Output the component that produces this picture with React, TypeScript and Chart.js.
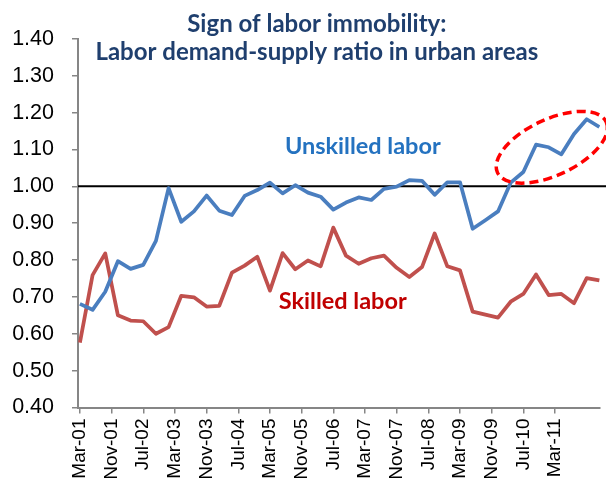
import React, { useEffect, useRef } from "react";
import { Chart, registerables } from "chart.js";

Chart.register(...registerables);

// ---- Data ----
const xTickLabels = [
  "Mar-01", "Nov-01", "Jul-02", "Mar-03", "Nov-03", "Jul-04", "Mar-05", "Nov-05",
  "Jul-06", "Mar-07", "Nov-07", "Jul-08", "Mar-09", "Nov-09", "Jul-10", "Mar-11",
];
// each tick label spans 2.5 observations
const pointsPerTick = 2.5;

const unskilledLabor = [
  0.681, 0.665, 0.714, 0.797, 0.776, 0.787, 0.852, 0.995, 0.904, 0.932,
  0.975, 0.934, 0.922, 0.974, 0.990, 1.010, 0.981, 1.003, 0.983, 0.972,
  0.937, 0.956, 0.970, 0.963, 0.993, 0.999, 1.017, 1.015, 0.977, 1.011,
  1.011, 0.885, 0.908, 0.932, 1.010, 1.039, 1.113, 1.106, 1.087, 1.142,
  1.182, 1.161,
];

const skilledLabor = [
  0.576, 0.759, 0.818, 0.650, 0.636, 0.634, 0.600, 0.618, 0.703, 0.699,
  0.674, 0.676, 0.766, 0.785, 0.809, 0.717, 0.819, 0.775, 0.799, 0.783,
  0.888, 0.812, 0.790, 0.805, 0.812, 0.779, 0.754, 0.781, 0.872, 0.783,
  0.772, 0.660, 0.652, 0.644, 0.687, 0.708, 0.761, 0.705, 0.708, 0.683,
  0.751, 0.745,
];

const titleLines = ["Sign of labor immobility:", "Labor demand-supply ratio in urban areas"];
const referenceLevel = 1.0;

const BLUE = "#4A7EBF";
const RED = "#C0504D";
const AXIS_GRAY = "#868686";

const annotationPlugin = {
  id: "labAnnotations",
  beforeDatasetsDraw(chart: any) {
    const { ctx, chartArea, scales } = chart;
    const y = scales.y;
    const py = y.getPixelForValue(referenceLevel);
    ctx.save();
    ctx.strokeStyle = "#000000";
    ctx.lineWidth = 2;
    ctx.beginPath();
    ctx.moveTo(chartArea.left, py);
    ctx.lineTo(chart.width, py);
    ctx.stroke();
    ctx.restore();
  },
  afterDatasetsDraw(chart: any) {
    const { ctx, scales } = chart;
    const x = scales.x;
    const y = scales.y;
    ctx.save();

    // Title
    ctx.fillStyle = "#1F3F6E";
    ctx.font = "bold 24px Lato";
    ctx.textAlign = "center";
    ctx.textBaseline = "alphabetic";
    ctx.fillText(titleLines[0], x.getPixelForValue(18.7), y.getPixelForValue(1.420));
    ctx.fillText(titleLines[1], x.getPixelForValue(18.7), y.getPixelForValue(1.342));

    // Series labels
    ctx.textAlign = "left";
    ctx.font = "bold 23.5px Lato";
    ctx.fillStyle = "#2472C0";
    ctx.fillText("Unskilled labor", x.getPixelForValue(16.18), y.getPixelForValue(1.088));
    ctx.fillStyle = "#C00000";
    ctx.fillText("Skilled labor", x.getPixelForValue(15.7), y.getPixelForValue(0.668));

    // Dashed ellipse highlighting the recent rise
    const cx = x.getPixelForValue(37.25);
    const cy = y.getPixelForValue(1.106);
    ctx.strokeStyle = "#FF0000";
    ctx.lineWidth = 3.5;
    ctx.setLineDash([9, 5]);
    ctx.beginPath();
    ctx.ellipse(cx, cy, 60, 28, -25 * Math.PI / 180, 0, Math.PI * 2);
    ctx.stroke();
    ctx.restore();
  },
};

export default function App() {
  const canvasRef = useRef<HTMLCanvasElement | null>(null);

  useEffect(() => {
    if (!canvasRef.current) return;
    const indices = unskilledLabor.map((_, i) => i);
    const chart = new Chart(canvasRef.current, {
      type: "line",
      data: {
        datasets: [
          {
            label: "Unskilled labor",
            data: indices.map((i) => ({ x: i, y: unskilledLabor[i] })),
            borderColor: BLUE,
            borderWidth: 3.75,
            pointRadius: 0,
            tension: 0,
            borderJoinStyle: "round",
          },
          {
            label: "Skilled labor",
            data: indices.map((i) => ({ x: i, y: skilledLabor[i] })),
            borderColor: RED,
            borderWidth: 3.75,
            pointRadius: 0,
            tension: 0,
            borderJoinStyle: "round",
          },
        ],
      },
      options: {
        animation: false,
        responsive: true,
        maintainAspectRatio: false,
        layout: { padding: { top: 25.5, right: 14, bottom: 0, left: 0 } },
        plugins: {
          legend: { display: false },
          tooltip: { enabled: false },
          title: { display: false },
        },
        scales: {
          x: {
            type: "linear",
            min: -0.15,
            max: 41.05,
            afterBuildTicks(scale: any) {
              scale.ticks = xTickLabels.map((_, i) => ({ value: i * pointsPerTick }));
            },
            afterFit(scale: any) {
              scale.height = 70.5;
            },
            ticks: {
              autoSkip: false,
              maxRotation: 90,
              minRotation: 90,
              padding: 5,
              color: "#000000",
              font: { family: "'Liberation Sans', Arial, sans-serif", size: 19 },
              callback: (_v: any, i: number) => xTickLabels[i],
            },
            grid: { drawOnChartArea: false, tickLength: 6, color: AXIS_GRAY, lineWidth: 1.5 },
            border: { color: AXIS_GRAY, width: 2 },
          },
          y: {
            min: 0.4,
            max: 1.4,
            afterFit(scale: any) {
              scale.width = 70;
            },
            ticks: {
              stepSize: 0.1,
              padding: 18,
              color: "#000000",
              font: { family: "'Liberation Sans', Arial, sans-serif", size: 21.5 },
              callback: (v: any) => Number(v).toFixed(2),
            },
            grid: { drawOnChartArea: false, tickLength: 6, color: AXIS_GRAY, lineWidth: 1.5 },
            border: { color: AXIS_GRAY, width: 2 },
          },
        },
      },
      plugins: [annotationPlugin],
    });
    return () => chart.destroy();
  }, []);

  return (
    <div style={{ width: 606, height: 470, marginRight: -8, position: "relative" }}>
      <canvas ref={canvasRef} />
    </div>
  );
}
